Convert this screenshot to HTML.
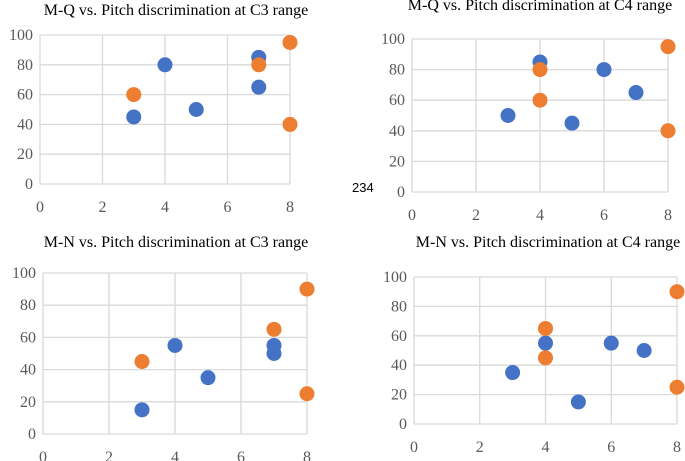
<!DOCTYPE html>
<html><head><meta charset="utf-8"><style>
html,body{margin:0;padding:0;background:#fff;}
svg{display:block;}
.t{font-family:"Liberation Serif",serif;font-size:16px;fill:#000;}
.tk{font-family:"Liberation Serif",serif;font-size:16px;fill:#595959;}
</style></head><body>
<svg id="c" width="685" height="461">
<text x="352" y="192" font-family="Liberation Sans,sans-serif" font-size="13" fill="#000">234</text>
</svg>
<script>
const xTicks=[0,2,4,6,8];
const yTicks=[0,20,40,60,80,100];
const titles=["M-Q vs. Pitch discrimination at C3 range","M-Q vs. Pitch discrimination at C4 range","M-N vs. Pitch discrimination at C3 range","M-N vs. Pitch discrimination at C4 range"];
const blueX1=[3,4,5,7,7], blueY1=[45,80,50,85,65];
const orangeX1=[3,7,8,8], orangeY1=[60,80,95,40];
const blueX2=[3,4,5,6,7], blueY2=[50,85,45,80,65];
const orangeX2=[4,4,8,8], orangeY2=[80,60,95,40];
const blueX3=[3,4,5,7,7], blueY3=[15,55,35,55,50];
const orangeX3=[3,7,8,8], orangeY3=[45,65,90,25];
const blueX4=[3,4,5,6,7], blueY4=[35,55,15,55,50];
const orangeX4=[4,4,8,8], orangeY4=[65,45,90,25];
const series=[[blueX1,blueY1,orangeX1,orangeY1],[blueX2,blueY2,orangeX2,orangeY2],[blueX3,blueY3,orangeX3,orangeY3],[blueX4,blueY4,orangeX4,orangeY4]];
const panels=[{x0:40,x1:290,y0:184,y1:35,tx:176,ty:15},{x0:412,x1:668,y0:192,y1:39,tx:540,ty:10},{x0:43,x1:307,y0:434,y1:273,tx:176,ty:247},{x0:414,x1:677,y0:424,y1:277,tx:548,ty:247}];
const svg=document.getElementById('c');
const NS='http://www.w3.org/2000/svg';
function mk(tag,attrs,parent){const e=document.createElementNS(NS,tag);for(const k in attrs)e.setAttribute(k,attrs[k]);(parent||svg).appendChild(e);return e;}
panels.forEach((p,i)=>{
  const g=mk('g',{});
  
  
  const sx=v=>p.x0+(v-0)/(8-0)*(p.x1-p.x0);
  const sy=v=>p.y0-(v-0)/(100-0)*(p.y0-p.y1);
  const t=mk('text',{x:p.tx,y:p.ty,'text-anchor':'middle','class':'t'},g);t.textContent=titles[i];
  
  
  yTicks.forEach(v=>{
    const l=mk('line',{x1:p.x0,x2:p.x1,y1:sy(v),y2:sy(v),stroke:'#d9d9d9','stroke-width':1.3},g);
    
    
    const tx=mk('text',{x:p.x0-7,y:sy(v)+5,'text-anchor':'end','class':'tk'},g);tx.textContent=v;
    
    
  });
  xTicks.forEach(v=>{
    const l=mk('line',{x1:sx(v),x2:sx(v),y1:p.y0,y2:p.y1,stroke:'#d9d9d9','stroke-width':1.3},g);
    
    
    const tx=mk('text',{x:sx(v),y:p.y0+28,'text-anchor':'middle','class':'tk'},g);tx.textContent=v;
    
    
  });
  const [bx,by,ox,oy]=series[i];
  bx.forEach((v,j)=>{
    const c=mk('circle',{cx:sx(v),cy:sy(by[j]),r:7.5,fill:'#4472C4'},g);
    
    
  });
  ox.forEach((v,j)=>{
    const c=mk('circle',{cx:sx(v),cy:sy(oy[j]),r:7.5,fill:'#ED7D31'},g);
    
    
  });
});
</script>
</body></html>
